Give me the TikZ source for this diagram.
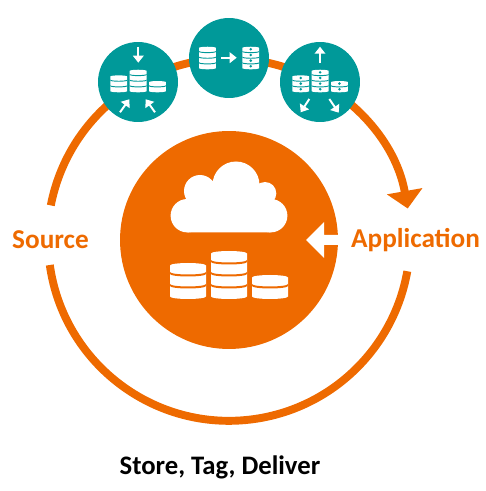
\documentclass[tikz,border=0pt]{standalone}
\usepackage{fontspec}
\setmainfont{Carlito}
\usetikzlibrary{arrows.meta}
\definecolor{ringorange}{RGB}{238,106,0}
\definecolor{iconteal}{RGB}{0,153,153}
\tikzset{
    pics/dbstack/.style 2 args={code={
        \fill[white] (0,2.5) arc[start angle=180, end angle=360, x radius=18, y radius=2.5] -- (36,12*#1-2.5) arc[start angle=0, end angle=180, x radius=18, y radius=2.5] -- cycle;
        \foreach \i in {2,...,#1} {
            \fill[#2] (0,12*\i-12+1) arc[start angle=180, end angle=360, x radius=18, y radius=2.5] -- (36,12*\i-12+3) arc[start angle=360, end angle=180, x radius=18, y radius=2.5] -- cycle;
        }
    }},
    pics/dbdots/.style 2 args={code={
        \foreach \i in {1,...,#1} {
            \fill[#2] (18,12*\i-5.5) circle (3);
        }
    }}
}
\begin{document}
\begin{tikzpicture}[x=0.02cm, y=0.02cm,
        ringline/.style={draw=ringorange, line width=4.5pt},
        hubdisc/.style={circle, fill=ringorange, minimum size=4.36cm, inner sep=0pt},
        stagedisc/.style={circle, fill=iconteal, minimum size=1.6cm, inner sep=0pt},
        ringlabel/.style={text=ringorange, font=\bfseries\fontsize{15.5}{18}\selectfont},
        iconarrow/.style={draw=white, line width=1.1pt, -{Triangle[length=4pt,width=6pt]}}
    ]
    \useasboundingbox (0,0) rectangle (486,491);

    % ring
    \draw[ringline, -{Triangle[length=10pt,width=20pt]}] (50.8,285.6) arc[start angle=169, end angle=10, radius=181.5];
    \draw[ringline] (49.8,226) arc[start angle=188, end angle=350, radius=181];

    \node[hubdisc] (hub) at (229,251) {};
    \node[stagedisc] (store) at (138,409) {};
    \node[stagedisc] (tag) at (229,433) {};
    \node[stagedisc] (deliver) at (320,409) {};

    \node[ringlabel] (source) at (50.5,251) {Source};
    \node[ringlabel] (application) at (415.5,251) {Application};
    \node[font=\bfseries\fontsize{15.2}{18}\selectfont] (caption) at (220,24) {Store, Tag, Deliver};

    % cloud
    \fill[white] (187.3,275.3) circle (16.7) (270.7,275.3) circle (16.7) (200,300) circle (16) (236,306) circle (23.5) (265,297.7) circle (11.3);
    \fill[white] (187.3,258.7) -- (187.3,292) -- (200,300) -- (236,306) -- (265,297.7) -- (270.7,292) -- (270.7,258.7) -- cycle;

    % arrow into the hub
    \fill[white] (306,251) -- (324,269) -- (324,256) -- (340,256) -- (340,246) -- (324,246) -- (324,233) -- cycle;

    % hub stacks
    \pic at (170,192) {dbstack={3}{ringorange}};
    \pic at (211,192) {dbstack={4}{ringorange}};
    \pic at (252,192) {dbstack={2}{ringorange}};

    % store
    \pic[scale=0.47] at (110.3,398.7) {dbstack={3}{iconteal}};
    \pic[scale=0.47] at (129.7,398.7) {dbstack={4}{iconteal}};
    \pic[scale=0.47] at (149,398.7) {dbstack={2}{iconteal}};
    \draw[iconarrow] (138.3,444.3) -- (138.3,428.3);
    \draw[iconarrow] (120,378.7) -- (129.3,391.7);
    \draw[iconarrow] (155,378.7) -- (145.7,391.7);

    % tag
    \pic[scale=0.47] at (199,421.7) {dbstack={4}{iconteal}};
    \pic[scale=0.47] at (242.3,421.7) {dbstack={4}{iconteal}};
    \pic[scale=0.47] at (242.3,421.7) {dbdots={4}{iconteal}};
    \draw[iconarrow] (221,433.3) -- (236.7,433.3);

    % deliver
    \pic[scale=0.47] at (292.3,398.7) {dbstack={3}{iconteal}};
    \pic[scale=0.47] at (292.3,398.7) {dbdots={3}{iconteal}};
    \pic[scale=0.47] at (311.7,398.7) {dbstack={4}{iconteal}};
    \pic[scale=0.47] at (311.7,398.7) {dbdots={4}{iconteal}};
    \pic[scale=0.47] at (331,398.7) {dbstack={2}{iconteal}};
    \pic[scale=0.47] at (331,398.7) {dbdots={2}{iconteal}};
    \draw[iconarrow] (320,428.3) -- (320,444.3);
    \draw[iconarrow] (309.3,392) -- (300.7,378.7);
    \draw[iconarrow] (329.3,392) -- (338.7,378.3);
\end{tikzpicture}
\end{document}
